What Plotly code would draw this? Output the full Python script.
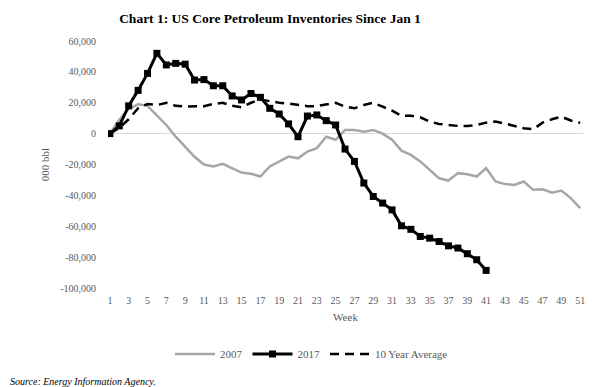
import plotly.graph_objects as go

weeks_2007 = list(range(1, 52))
weeks_2017 = list(range(1, 42))
weeks_avg = list(range(1, 52))

vals_2007 = [0, 9000, 16000, 19000, 18000, 12000, 5600, -2000, -8400, -15000,
             -20000, -21300, -19600, -22400, -25200, -26000, -27800, -21300, -18100, -14900,
             -16000, -11600, -9500, -2000, -4000, 2400, 2400, 1300, 2400, 0,
             -4000, -11000, -13800, -18000, -23500, -28900, -30400, -25600, -26300, -27800,
             -22400, -31000, -32700, -33200, -31000, -36400, -36000, -38200, -36900, -41800, -48300]

vals_2017 = [0, 5000, 18000, 28000, 39000, 52000, 44500, 45500, 45000, 34700,
             35000, 31000, 31000, 24400, 21800, 26000, 23500, 16400, 12700, 6300,
             -2000, 11400, 12100, 8400, 5600, -10000, -18000, -32000, -40700, -45000,
             -49400, -59700, -62000, -66600, -67700, -69900, -72700, -74100, -77800, -81700, -88600]

vals_avg = [0, 3700, 9300, 16400, 19200, 18500, 20000, 18000, 17500, 17500,
            17800, 19200, 20000, 18000, 17100, 20000, 22200, 21000, 20000, 19500,
            18500, 17800, 17800, 19000, 20000, 17500, 16400, 18600, 20000, 17500,
            14900, 11500, 11500, 10600, 7800, 6300, 5600, 5000, 5000, 5600,
            7100, 7800, 6500, 5000, 3500, 2800, 7100, 9300, 11000, 8500, 7000]

x_tick_vals = list(range(1, 52, 2))
y_tick_vals = list(range(-100000, 60001, 20000))

serif = "Liberation Serif"
grey_txt = "#595959"

# page body has an 8px margin, so the figure is laid out 8px up/left of the reference
W, H = 591, 379
L, R, T, B = 100, 575, 33, 280

fig = go.Figure()
fig.add_trace(go.Scatter(x=weeks_2007, y=vals_2007, name="2007", mode="lines",
                         line=dict(color="#a6a6a6", width=2.5)))
fig.add_trace(go.Scatter(x=weeks_2017, y=vals_2017, name="2017", mode="lines+markers",
                         line=dict(color="#000000", width=3),
                         marker=dict(symbol="square", size=7, color="#000000")))
fig.add_trace(go.Scatter(x=weeks_avg, y=vals_avg, name="10 Year Average", mode="lines",
                         line=dict(color="#000000", width=2.5, dash="9px,6px")))

fig.update_layout(
    width=W, height=H,
    margin=dict(l=L, r=W - R, t=T, b=H - B),
    paper_bgcolor="white", plot_bgcolor="white",
    title=dict(text="<b>Chart 1: US Core Petroleum Inventories Since Jan 1</b>",
               x=262 / W, xanchor="center", y=1 - 10 / H, yanchor="middle",
               font=dict(family=serif, size=13.5, color="#000000")),
    font=dict(family=serif, size=10, color=grey_txt),
    xaxis=dict(range=[0.8, 51.3], tickmode="array", tickvals=x_tick_vals,
               ticktext=[str(v) for v in x_tick_vals],
               showgrid=False, zeroline=False, showline=False,
               ticks="outside", ticklen=3, tickcolor="rgba(0,0,0,0)",
               tickfont=dict(family=serif, size=10, color=grey_txt),
               title=dict(text="Week", standoff=8,
                          font=dict(family=serif, size=11, color=grey_txt))),
    yaxis=dict(range=[-100000, 60000], tickmode="array", tickvals=y_tick_vals,
               ticktext=[f"{v:,}" for v in y_tick_vals],
               showgrid=False, zeroline=True, zerolinecolor="#d9d9d9", zerolinewidth=1,
               showline=False, ticks="outside", ticklen=9, tickcolor="rgba(0,0,0,0)",
               tickfont=dict(family=serif, size=10, color=grey_txt),
               title=dict(text="000 bbl", standoff=8,
                          font=dict(family=serif, size=11, color=grey_txt))),
    legend=dict(orientation="h", x=(162 - L) / (R - L), xanchor="left",
                y=(B - 346) / (B - T), yanchor="middle",
                font=dict(family=serif, size=11, color=grey_txt),
                bgcolor="rgba(0,0,0,0)", itemwidth=40),
    showlegend=True,
)

fig.add_annotation(text="<i>Source: Energy Information Agency.</i>", xref="paper", yref="paper",
                   x=-L / (R - L), xanchor="left", y=(B - 373) / (B - T), yanchor="middle",
                   showarrow=False, font=dict(family=serif, size=10, color="#000000"))

fig.write_html("out.html")
